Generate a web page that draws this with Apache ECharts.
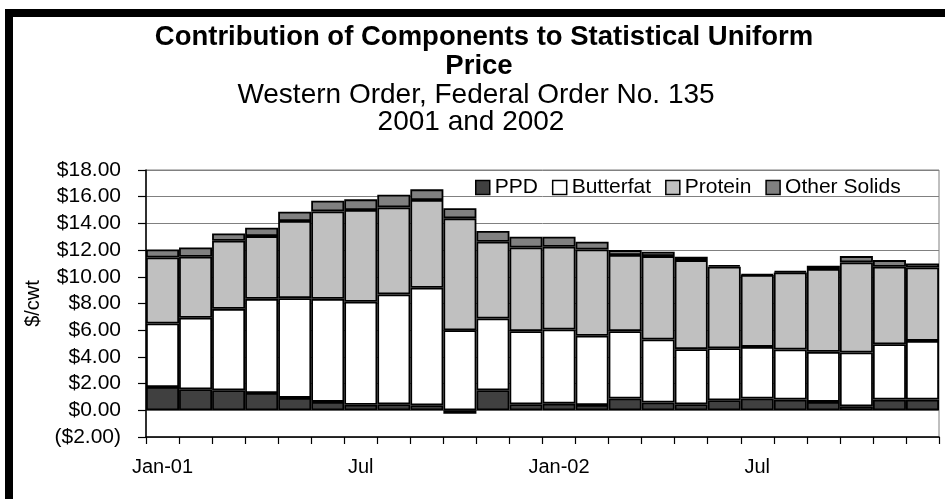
<!DOCTYPE html>
<html>
<head>
<meta charset="utf-8">
<script src="https://cdn.jsdelivr.net/npm/echarts@6/dist/echarts.min.js"></script>
<style>
html,body{margin:0;padding:0;background:#fff;}
#chart{width:945px;height:499px;}
</style>
</head>
<body>
<div id="chart"></div>
<script>
const categories = ['Jan-01','Feb','Mar','Apr','May','Jun','Jul','Aug','Sep','Oct','Nov','Dec',
                    'Jan-02','Feb','Mar','Apr','May','Jun','Jul','Aug','Sep','Oct','Nov','Dec'];
const ppd       = [1.75,1.58,1.50,1.30,0.93,0.63,0.42,0.45,0.38,-0.25,1.50,0.45,0.50,0.40,0.88,0.58,0.45,0.75,0.88,0.80,0.63,0.30,0.80,0.80];
const butterfat = [4.75,5.35,6.10,7.05,7.47,7.72,7.71,8.23,8.80,6.00,5.38,5.48,5.55,5.18,5.05,4.72,4.13,3.90,3.87,3.75,3.75,4.03,4.15,4.40];
const protein   = [4.95,4.57,5.10,4.70,5.78,6.55,6.87,6.52,6.57,8.38,5.75,6.27,6.20,6.47,5.70,6.25,6.67,6.10,5.38,5.78,6.20,6.75,5.80,5.50];
const other     = [0.60,0.70,0.55,0.63,0.70,0.80,0.80,0.95,0.80,0.75,0.80,0.80,0.75,0.58,0.37,0.33,0.25,0.13,0.07,0.10,0.25,0.47,0.50,0.30];
const seriesNames = ['PPD','Butterfat','Protein','Other Solids'];
const seriesColors = ['#404040','#ffffff','#c0c0c0','#808080'];
const titleLines = ['Contribution of Components to Statistical Uniform','Price'];
const subtitleLines = ['Western Order, Federal Order No. 135','2001 and 2002'];
const yAxisName = '$/cwt';

const FONT = '"Liberation Sans", Arial, sans-serif';
const chart = echarts.init(document.getElementById('chart'));
const dataSets = [ppd, butterfat, protein, other];

const option = {
  animation: false,
  backgroundColor: '#ffffff',
  textStyle: { fontFamily: FONT, color: '#000' },
  graphic: [
    { type: 'rect', shape: { x: 5, y: 9, width: 945, height: 8 }, style: { fill: '#000' } },
    { type: 'rect', shape: { x: 5, y: 9, width: 8, height: 495 }, style: { fill: '#000' } },
    { type: 'text', x: 484, y: 37, style: { text: titleLines[0], font: 'bold 27.5px ' + FONT, fill: '#000', textAlign: 'center', textVerticalAlign: 'middle' } },
    { type: 'text', x: 479, y: 66, style: { text: titleLines[1], font: 'bold 27.5px ' + FONT, fill: '#000', textAlign: 'center', textVerticalAlign: 'middle' } },
    { type: 'text', x: 476, y: 95, style: { text: subtitleLines[0], font: '28px ' + FONT, fill: '#000', textAlign: 'center', textVerticalAlign: 'middle' } },
    { type: 'text', x: 471, y: 122, style: { text: subtitleLines[1], font: '28px ' + FONT, fill: '#000', textAlign: 'center', textVerticalAlign: 'middle' } }
  ],
  legend: {
    left: 475, top: 177,
    padding: 0,
    itemWidth: 14, itemHeight: 14, itemGap: 14,
    icon: 'rect',
    itemStyle: { borderColor: '#000', borderWidth: 1.5 },
    textStyle: { fontSize: 21, fontFamily: FONT, color: '#000' },
    data: seriesNames
  },
  grid: {
    left: 146, right: 6, top: 170, bottom: 62,
    show: true, borderColor: '#808080', borderWidth: 1
  },
  xAxis: {
    type: 'category',
    data: categories,
    boundaryGap: true,
    axisLine: { onZero: false, lineStyle: { color: '#000', width: 1.5 } },
    axisTick: { show: true, interval: 0, length: 7, lineStyle: { color: '#000', width: 1.2 } },
    axisLabel: { interval: 5, fontSize: 20, fontFamily: FONT, color: '#000', margin: 20 }
  },
  yAxis: {
    type: 'value',
    min: -2, max: 18, interval: 2,
    name: yAxisName,
    nameLocation: 'middle',
    nameGap: 101,
    nameTextStyle: { fontSize: 20, fontFamily: FONT, color: '#000' },
    axisLine: { show: true, lineStyle: { color: '#000', width: 1.5 } },
    axisTick: { show: true, length: 8, lineStyle: { color: '#000', width: 1.2 } },
    axisLabel: {
      fontSize: 21, fontFamily: FONT, color: '#000', margin: 25,
      formatter: v => v < 0 ? '($' + Math.abs(v).toFixed(2) + ')' : '$' + v.toFixed(2)
    },
    splitLine: { show: true, lineStyle: { color: '#808080', width: 1 } }
  },
  series: seriesNames.map((name, i) => ({
    name: name,
    type: 'bar',
    stack: 'total',
    barCategoryGap: '0%',
    data: dataSets[i],
    itemStyle: { color: seriesColors[i], borderColor: '#000', borderWidth: 1.8 }
  }))
};
chart.setOption(option);
</script>
</body>
</html>
